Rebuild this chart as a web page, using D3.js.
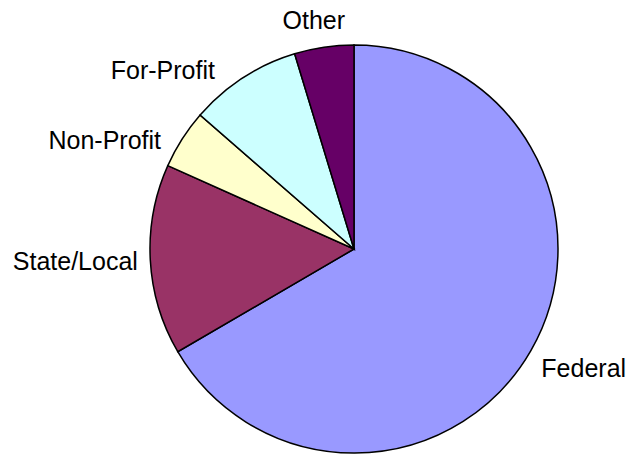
<!DOCTYPE html>
<html>
<head>
<script src="https://d3js.org/d3.v7.min.js"></script>
<style>
  body { margin: 0; background: #fff; }
  .label {
    font-family: "Liberation Sans", Arial, sans-serif;
    font-size: 25px;
    fill: #000;
  }
  .slice {
    stroke: #000;
    stroke-width: 1.5px;
  }
</style>
</head>
<body>
<script>
// share of funding by source (percent), clockwise from 12 o'clock
var categories = ["Federal", "State/Local", "Non-Profit", "For-Profit", "Other"];
var shares = [66.6, 15.1, 4.7, 8.9, 4.7];
var colors = ["#9999ff", "#993366", "#ffffcc", "#ccffff", "#660066"];
// small angle nudges (degrees) so labels sit like the original best-fit layout
var labelNudge = [-2.5, 0.5, -9, -14, -1.5];

var width = 636, height = 454;
var cx = 354, cy = 249, radius = 204;
var gap = 12, boxH = 22;

var data = categories.map(function(c, i) {
  return { name: c, value: shares[i], color: colors[i], nudge: labelNudge[i] };
});

var svg = d3.select("body").append("svg")
    .attr("width", width)
    .attr("height", height);

var g = svg.append("g")
    .attr("transform", "translate(" + cx + "," + cy + ")");

var pie = d3.pie()
    .sort(null)
    .value(function(d) { return d.value; });

var arc = d3.arc()
    .innerRadius(0)
    .outerRadius(radius);

var arcs = pie(data);

g.selectAll("path.slice")
  .data(arcs)
  .enter()
  .append("path")
    .attr("class", "slice")
    .attr("fill", function(d) { return d.data.color; })
    .attr("d", arc);

// labels outside the pie, pushed out by half their box along the ray
var labels = g.selectAll("text.label")
  .data(arcs)
  .enter()
  .append("text")
    .attr("class", "label")
    .attr("text-anchor", "middle")
    .text(function(d) { return d.data.name; });

labels.each(function(d) {
  var w = this.getComputedTextLength();
  var a = (d.startAngle + d.endAngle) / 2 + d.data.nudge * Math.PI / 180;
  var s = Math.sin(a), c = Math.cos(a);
  var dist = radius + gap + Math.abs(s) * w / 2 + Math.abs(c) * boxH / 2;
  d3.select(this)
    .attr("x", s * dist)
    .attr("y", -c * dist + 9);
});
</script>
</body>
</html>
